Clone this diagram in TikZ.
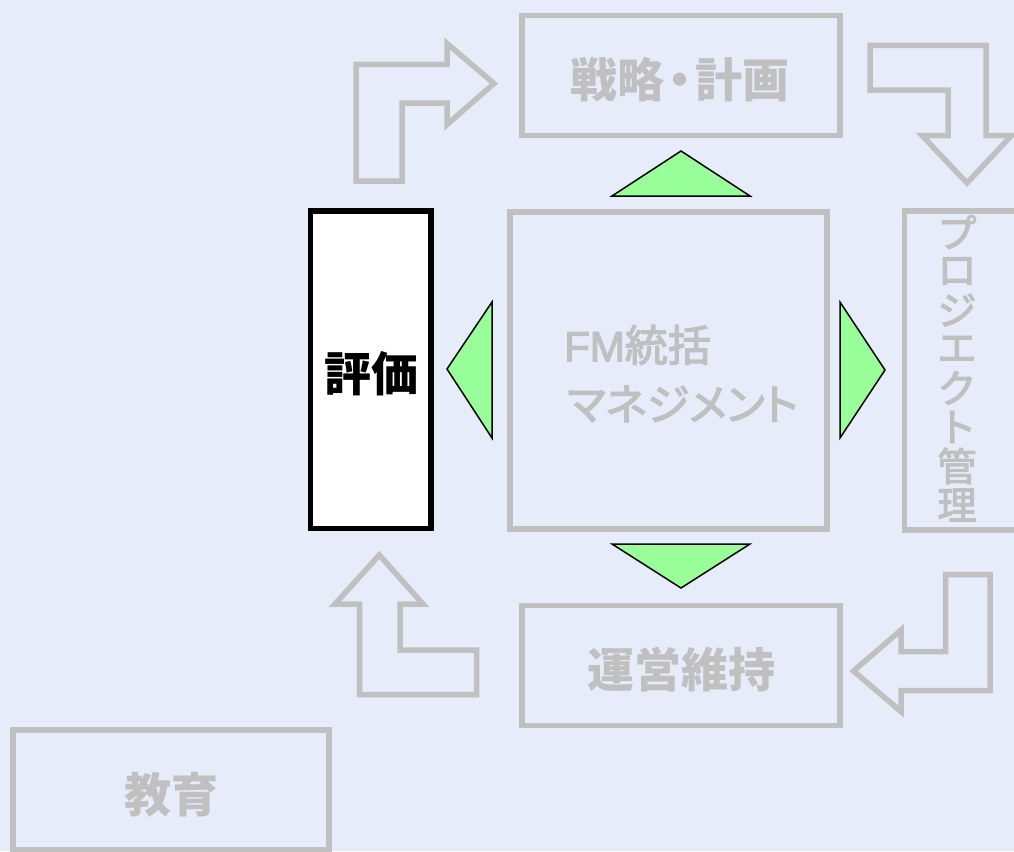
\documentclass[tikz,border=0pt]{standalone}
\usepackage{fontspec}
\newfontfamily\jp{Noto Sans CJK JP}
\newfontfamily\jpm{Noto Sans CJK JP}[FakeBold=3]
\newfontfamily\jpp{Noto Sans CJK JP}[RawFeature=+palt,FakeBold=3]
\newfontfamily\arl{Liberation Sans}[FakeBold=3]
\definecolor{bgc}{RGB}{230,236,250}
\definecolor{lgc}{RGB}{192,192,192}
\definecolor{greenc}{RGB}{153,255,153}
\begin{document}
\begin{tikzpicture}[x=1pt,y=-1pt,
  box/.style={draw=lgc, line width=5.5pt, rectangle, inner sep=0pt, minimum width=318pt, minimum height=120pt},
  lbl/.style={text=lgc, inner sep=0pt, font=\jp\bfseries\fontsize{47}{56}\selectfont},
  fmlbl/.style={text=lgc, inner sep=0pt, anchor=west, font=\jpp\fontsize{43}{56}\selectfont},
  vlbl/.style={text=lgc, inner sep=0pt, font=\jpm\fontsize{39}{48}\selectfont},
  bent/.style={draw=lgc, line width=5.5pt, line join=miter},
  greentri/.style={fill=greenc, draw=black, line width=1.5pt, line join=miter}]
\fill[bgc] (0,0) rectangle (1014,851);
\useasboundingbox (0,0) rectangle (1014,851);
% boxes
\node[box] (plan) at (681,75.5) {};
\node[box] (ops) at (681,665.5) {};
\node[box, minimum width=316pt] (edu) at (171,790) {};
\node[box, minimum width=317pt, minimum height=317pt] (fm) at (668.5,370.5) {};
\node[box, minimum width=120pt, minimum height=319pt] (proj) at (964.5,370.5) {};
\node[box, draw=black, fill=white, minimum width=120.5pt, minimum height=317.5pt] (eval) at (370.75,369.75) {};
% labels
\node[lbl] (plantxt) at (680,80) {戦略\kern-8pt・\kern-8pt計画};
\node[lbl] (opstxt) at (681.5,669.5) {運営維持};
\node[lbl] (edutxt) at (171,794.5) {教育};
\node[lbl, text=black] (evaltxt) at (371.5,374) {評価};
\node[fmlbl] (fm1) at (564,345) {{\arl\fontsize{42}{56}\selectfont FM}統括};
\node[fmlbl] (fm2) at (567,404) {マネジメント};
\foreach \c [count=\i] in {プ,ロ,ジ,エ,ク,ト,管,理}
  \node[vlbl] (pj\i) at (957,193+39*\i) {\c};
% triangles
\draw[greentri] (612,196) -- (681,151) -- (750,196) -- cycle;
\draw[greentri] (612,544) -- (750,544) -- (681,588) -- cycle;
\draw[greentri] (492,302) -- (447,369) -- (492,438) -- cycle;
\draw[greentri] (840,302) -- (885,370) -- (840,438) -- cycle;
% bent arrows
\draw[bent] (356,181) -- (356,64.5) -- (447,64.5) -- (447,43.5) -- (494,83.5) -- (447,124.5) -- (447,103) -- (402,103) -- (402,181) -- cycle;
\draw[bent] (870,45.5) -- (986,45.5) -- (986,135.5) -- (1011.5,135.5) -- (967,183) -- (922,135.5) -- (948,135.5) -- (948,90) -- (870,90) -- cycle;
\draw[bent] (945.5,574.5) -- (990,574.5) -- (990,690.5) -- (901,690.5) -- (901,711.5) -- (853.5,671) -- (901,630) -- (901,651.5) -- (945.5,651.5) -- cycle;
\draw[bent] (359.7,694.5) -- (476.7,694.5) -- (476.7,650) -- (400,650) -- (400,604) -- (423,604) -- (379.3,555) -- (335,604) -- (359.7,604) -- cycle;
\end{tikzpicture}
\end{document}
